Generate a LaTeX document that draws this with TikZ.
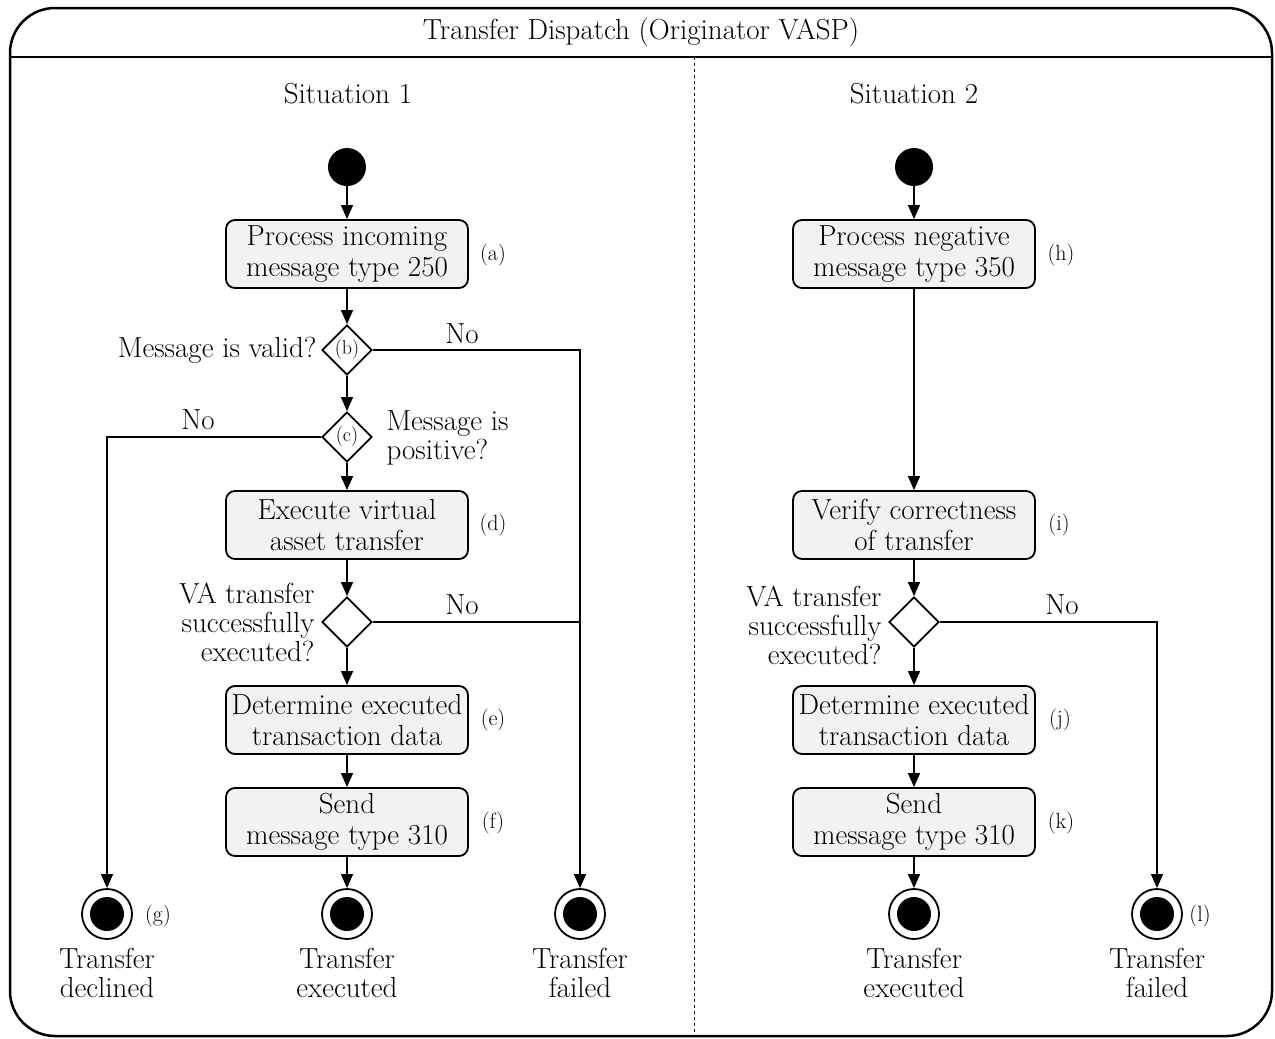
\documentclass[tikz,border=0pt]{standalone}
\usetikzlibrary{shapes.geometric,arrows.meta}
\definecolor{boxgray}{HTML}{F2F2F2}
\begin{document}
\begin{tikzpicture}[x=1pt,y=-1pt,
  every node/.style={font=\fontsize{29}{31}\selectfont},
  act/.style={draw, line width=1.8pt, rounded corners=9pt, fill=boxgray,
    minimum width=242pt, minimum height=68pt, align=center, inner sep=1pt},
  dec/.style={draw, diamond, line width=1.8pt, minimum width=50pt,
    minimum height=50pt, inner sep=0pt, fill=white,
    font=\fontsize{20}{22}\selectfont},
  startnode/.style={circle, fill=black, minimum size=38pt, inner sep=0pt},
  endnode/.style={circle, draw, line width=1.8pt, minimum size=50pt, inner sep=0pt,
    path picture={\fill (path picture bounding box.center) circle (17pt);}},
  flow/.style={line width=1.3pt, -{Triangle[length=14pt,width=12pt]}},
  link/.style={line width=1.3pt},
  tag/.style={font=\fontsize{22}{24}\selectfont},
  query/.style={anchor=east, align=right, font=\fontsize{29}{29}\selectfont},
  outcome/.style={anchor=north, align=center, inner sep=0pt,
    font=\fontsize{29}{29}\selectfont},
  ]
\useasboundingbox (0,0) rectangle (1275,1039);

% frame with title bar and swimlane divider
\draw[line width=2.5pt, rounded corners=45pt] (10,8) rectangle (1272,1036);
\draw[line width=1.5pt] (10,57) -- (1272,57);
\draw[line width=1pt, dashed] (694,57) -- (694,1036);
\node (title) at (641,32) {Transfer Dispatch (Originator VASP)};
\node (sit1) at (348,94) {Situation 1};
\node (sit2) at (914,94) {Situation 2};

% ---- Situation 1 ----
\node[startnode] (s1) at (347,167) {};
\node[act] (a) at (347,254) {Process incoming\\message type 250};
\node[tag] (ta) at (493,255) {(a)};
\node[dec] (b) at (347,350) {(b)};
\node[anchor=east] (qb) at (320,350) {Message is valid?};
\node (nob) at (462,334) {No};
\node[dec] (c) at (347,437) {(c)};
\node[anchor=west, align=left, font=\fontsize{29}{29}\selectfont] (qc) at (383,438) {Message is\\positive?};
\node (noc) at (198,420) {No};
\node[act] (d) at (347,525) {Execute virtual\\asset transfer};
\node[tag] (td) at (493,525) {(d)};
\node[dec] (v1) at (347,622) {};
\node[query] (qv1) at (318,622) {VA transfer\\successfully\\executed?};
\node (nov1) at (462,605) {No};
\node[act] (e) at (347,720) {Determine executed\\transaction data};
\node[tag] (te) at (493,720) {(e)};
\node[act] (f) at (347,822) {Send\\message type 310};
\node[tag] (tf) at (493,823) {(f)};
\node[endnode] (g) at (107,914) {};
\node[tag] (tg) at (158,916) {(g)};
\node[endnode] (x1) at (347,914) {};
\node[endnode] (fl1) at (580,914) {};
\node[outcome] (og) at (107,948) {Transfer\\declined};
\node[outcome] (ox1) at (347,948) {Transfer\\executed};
\node[outcome] (ofl1) at (580,948) {Transfer\\failed};

\draw[flow] (s1) -- (a);
\draw[flow] (a) -- (b);
\draw[flow] (b) -- (c);
\draw[flow] (c) -- (d);
\draw[flow] (d) -- (v1);
\draw[flow] (v1) -- (e);
\draw[flow] (e) -- (f);
\draw[flow] (f) -- (x1);
\draw[flow] (b.east) -| (fl1);
\draw[link] (v1.east) -- (v1.east -| fl1);
\draw[flow] (c.west) -| (g);

% ---- Situation 2 ----
\node[startnode] (s2) at (914,167) {};
\node[act] (h) at (914,254) {Process negative\\message type 350};
\node[tag] (th) at (1061,255) {(h)};
\node[act] (i) at (914,525) {Verify correctness\\of transfer};
\node[tag] (ti) at (1059,525) {(i)};
\node[dec] (v2) at (914,622) {};
\node[query] (qv2) at (885,625) {VA transfer\\successfully\\executed?};
\node (nov2) at (1062,605) {No};
\node[act] (j) at (914,720) {Determine executed\\transaction data};
\node[tag] (tj) at (1060,720) {(j)};
\node[act] (k) at (914,822) {Send\\message type 310};
\node[tag] (tk) at (1061,823) {(k)};
\node[endnode] (x2) at (914,914) {};
\node[endnode] (l) at (1157,914) {};
\node[tag] (tl) at (1200,916) {(l)};
\node[outcome] (ox2) at (914,948) {Transfer\\executed};
\node[outcome] (ol) at (1157,948) {Transfer\\failed};

\draw[flow] (s2) -- (h);
\draw[flow] (h) -- (i);
\draw[flow] (i) -- (v2);
\draw[flow] (v2) -- (j);
\draw[flow] (j) -- (k);
\draw[flow] (k) -- (x2);
\draw[flow] (v2.east) -| (l);
\end{tikzpicture}
\end{document}
